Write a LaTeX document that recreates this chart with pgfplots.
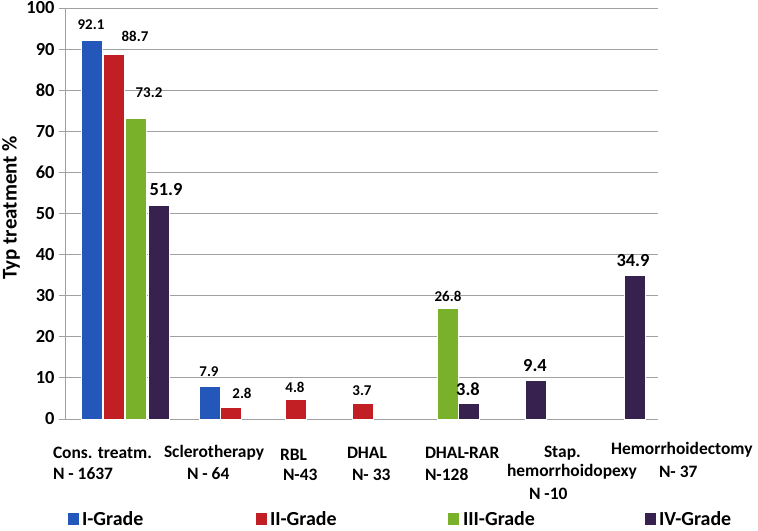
\documentclass[border=0pt]{standalone}
\usepackage{pgfplots}
\pgfplotsset{compat=1.18}
\usepackage{fontspec}
\setmainfont{Carlito}
\definecolor{cI}{RGB}{35,88,186}
\definecolor{cII}{RGB}{193,31,36}
\definecolor{cIII}{RGB}{121,177,43}
\definecolor{cIV}{RGB}{54,33,79}
\definecolor{gridg}{RGB}{160,160,160}
\begin{document}
\begin{tikzpicture}
\useasboundingbox (0,0) rectangle (758bp,531bp);
\begin{axis}[
  at={(65bp,112bp)}, anchor=south west,
  scale only axis, width=593bp, height=411bp,
  xmin=65, xmax=658, ymin=0, ymax=100,
  axis x line*=bottom, axis y line*=left,
  axis line style={gridg, line width=0.9bp, -},
  xtick=\empty,
  ytick={0,10,...,100},
  tick align=outside, major tick length=6bp,
  tick style={gridg, line width=0.9bp},
  ymajorgrids, grid style={gridg, line width=0.9bp},
  yticklabel style={font=\fontsize{18.5}{20}\selectfont\bfseries, /pgf/number format/assume math mode=true, xshift=-1bp},
  ybar, bar width=21, bar shift=0pt,
  clip=false,
]
\addplot[fill=cI, draw=white, line width=0.7bp] coordinates {(91.7,92.1) (209.5,7.9)};
\addplot[fill=cII, draw=white, line width=0.7bp] coordinates {(114,88.7) (231,2.8) (295.5,4.8) (363,3.7)};
\addplot[fill=cIII, draw=white, line width=0.7bp] coordinates {(136.3,73.2) (448,26.8)};
\addplot[fill=cIV, draw=white, line width=0.7bp] coordinates {(158.5,51.9) (468.5,3.8) (536,9.4) (634.5,34.9)};
\end{axis}
\begin{scope}[x=1bp, y=-1bp, shift={(0,531bp)}, every node/.style={inner sep=0pt, outer sep=0pt, font=\bfseries}]
  % value labels
  \def\sm{\fontsize{15}{16}\selectfont\bfseries}
  \def\bg{\fontsize{18.5}{20}\selectfont\bfseries}
  \node[font=\sm] at (91,25) {92.1};
  \node[font=\sm] at (135,36) {88.7};
  \node[font=\sm] at (149,93) {73.2};
  \node[font=\bg] at (166,190) {51.9};
  \node[font=\sm] at (209,372) {7.9};
  \node[font=\sm] at (242,393) {2.8};
  \node[font=\sm] at (295,387) {4.8};
  \node[font=\sm] at (362,391) {3.7};
  \node[font=\sm] at (448,296) {26.8};
  \node[font=\bg] at (468,389) {3.8};
  \node[font=\bg] at (535,366) {9.4};
  \node[font=\bg] at (633,261) {34.9};
  % y label
  \node[font=\fontsize{21}{24}\selectfont\bfseries, rotate=90] at (11,208) {Typ treatment \%};
  % category labels
  \def\cf{\fontsize{17.5}{20}\selectfont\bfseries}
  \node[font=\cf, anchor=west] at (53,453) {Cons. treatm.};
  \node[font=\cf, anchor=west] at (53,474) {N - 1637};
  \node[font=\cf, anchor=west] at (164,453) {Sclerotherapy};
  \node[font=\cf, anchor=west] at (187,474) {N - 64};
  \node[font=\cf, anchor=west] at (280,455) {RBL};
  \node[font=\cf, anchor=west] at (283,475) {N-43};
  \node[font=\cf, anchor=west] at (347,453) {DHAL};
  \node[font=\cf, anchor=west] at (352,475) {N- 33};
  \node[font=\cf, anchor=west] at (425,453) {DHAL-RAR};
  \node[font=\cf, anchor=west] at (425,475) {N-128};
  \node[font=\cf, anchor=west] at (544,453) {Stap.};
  \node[font=\cf, anchor=west] at (507,472) {hemorrhoidopexy};
  \node[font=\cf, anchor=west] at (529,494) {N -10};
  \node[font=\cf, anchor=west] at (611,450) {Hemorrhoidectomy};
  \node[font=\cf, anchor=west] at (659,472) {N- 37};
  % legend
  \def\lf{\fontsize{20}{22}\selectfont\bfseries}
  \fill[cI] (68,513) rectangle (79,525);
  \node[font=\lf, anchor=west] at (82,519) {I-Grade};
  \fill[cII] (256,513) rectangle (267,525);
  \node[font=\lf, anchor=west] at (270,519) {II-Grade};
  \fill[cIII] (448,513) rectangle (459,525);
  \node[font=\lf, anchor=west] at (463,519) {III-Grade};
  \fill[cIV] (645,513) rectangle (656,525);
  \node[font=\lf, anchor=west] at (659,519) {IV-Grade};
\end{scope}
\end{tikzpicture}
\end{document}
